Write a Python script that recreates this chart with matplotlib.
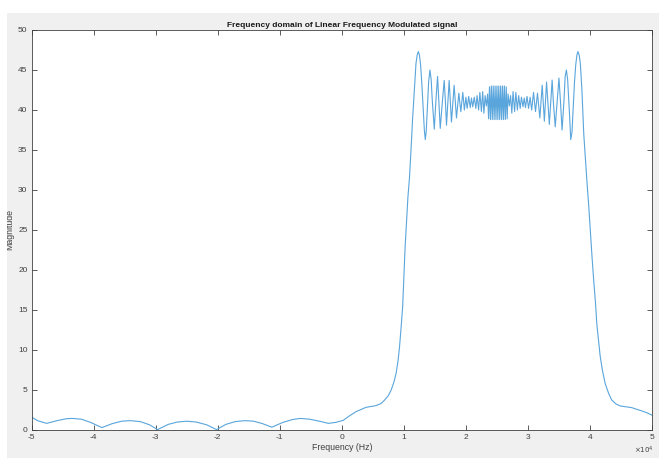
import matplotlib
matplotlib.use('Agg')
import matplotlib.pyplot as plt
from matplotlib.patches import Rectangle

# frequency in units of 1e4 Hz, magnitude
freq = [-5.00, -4.90, -4.76, -4.60, -4.45, -4.35, -4.20, -4.05, -3.87, -3.70,
        -3.55, -3.41, -3.25, -3.10, -2.97, -2.80, -2.65, -2.50, -2.35, -2.18,
        -2.02, -1.87, -1.72, -1.56, -1.42, -1.28, -1.13, -0.95, -0.80, -0.67,
        -0.52, -0.36, -0.22, -0.10,
        0.02, 0.12, 0.23, 0.39, 0.55, 0.63, 0.69, 0.75, 0.795, 0.84,
        0.875, 0.905, 0.93, 0.955, 0.98, 1.00, 1.02, 1.045, 1.066, 1.09,
        1.115, 1.14, 1.17, 1.195, 1.215, 1.233, 1.25, 1.27, 1.29, 1.31,
        1.33, 1.345, 1.36, 1.38, 1.40, 1.42, 1.44,
        1.457, 1.49, 1.515, 1.543, 1.565, 1.586, 1.62, 1.65, 1.67, 1.687,
        1.71, 1.73, 1.75, 1.767, 1.81, 1.848, 1.886, 1.918, 1.95, 1.975,
        2.00, 2.02, 2.045, 2.07, 2.09, 2.11, 2.135, 2.16, 2.18, 2.205,
        2.225, 2.25, 2.27, 2.29, 2.31, 2.33, 2.35,
        2.365, 2.38, 2.395, 2.41, 2.425, 2.44, 2.455, 2.47, 2.485, 2.50,
        2.515, 2.53, 2.545, 2.56, 2.575, 2.59, 2.605, 2.62, 2.635, 2.65,
        2.665, 2.68,
        2.70, 2.72, 2.74, 2.76, 2.785, 2.805, 2.83, 2.85, 2.875, 2.895,
        2.92, 2.94, 2.96, 2.985, 3.01, 3.035, 3.06,
        3.09, 3.122, 3.154, 3.192, 3.23, 3.265, 3.30, 3.345, 3.39, 3.41,
        3.44, 3.47, 3.50, 3.525, 3.55, 3.58, 3.60, 3.62, 3.64, 3.67,
        3.69, 3.71, 3.73, 3.75, 3.77, 3.79, 3.806, 3.825, 3.845, 3.87,
        3.90, 3.93, 3.95, 3.98, 4.005, 4.03,
        4.06, 4.09, 4.11, 4.14, 4.165, 4.20, 4.245, 4.30, 4.35, 4.42,
        4.49, 4.58, 4.67, 4.75, 4.83, 4.92, 5.00]
mag = [1.60, 1.15, 0.83, 1.15, 1.40, 1.45, 1.35, 0.95, 0.30, 0.80,
       1.10, 1.17, 1.05, 0.65, 0.05, 0.70, 1.00, 1.10, 1.00, 0.65,
       0.05, 0.70, 1.05, 1.17, 1.10, 0.80, 0.35, 0.95, 1.30, 1.45,
       1.35, 1.10, 0.83, 0.95,
       1.20, 1.75, 2.30, 2.83, 3.05, 3.30, 3.75, 4.30, 5.00, 6.00,
       7.10, 8.60, 10.4, 12.8, 15.4, 19.0, 22.9, 26.2, 29.2, 31.5,
       35.0, 38.8, 42.5, 45.8, 46.9, 47.3, 46.9, 45.6, 43.2, 40.4,
       37.5, 36.3, 37.3, 40.4, 43.6, 45.0, 43.8,
       41.3, 37.6, 41.0, 44.2, 41.0, 37.7, 41.0, 43.7, 41.0, 38.1,
       41.0, 43.7, 41.0, 38.5, 43.1, 39.0, 42.1, 39.8, 42.2, 40.0,
       41.6, 40.2, 41.7, 40.3, 41.5, 40.4, 41.6, 40.2, 41.8, 40.0,
       42.2, 39.8, 42.3, 39.6, 41.8, 40.5, 42.0,
       38.9, 42.9, 38.8, 43.0, 38.8, 43.0, 38.8, 43.0, 38.8, 43.0,
       38.8, 43.0, 38.8, 43.0, 38.8, 43.0, 38.8, 43.0, 38.8, 42.9,
       38.9, 42.0,
       40.5, 41.8, 39.6, 42.3, 39.8, 42.2, 40.0, 41.8, 40.2, 41.6,
       40.4, 41.5, 40.3, 41.7, 40.2, 41.6, 40.0,
       42.2, 39.8, 42.1, 39.0, 43.1, 38.6, 43.5, 38.2, 43.75, 41.0,
       37.9, 41.0, 44.0, 41.0, 37.5, 41.0, 44.2, 45.0, 43.8, 39.5,
       36.3, 37.2, 40.4, 43.4, 45.6, 46.9, 47.3, 46.9, 45.8, 42.5,
       37.0, 33.5, 31.2, 28.0, 25.0, 22.0,
       18.7, 15.8, 13.3, 11.0, 9.2, 7.5, 5.8, 4.6, 3.75, 3.25,
       3.0, 2.9, 2.8, 2.6, 2.4, 2.15, 1.85]

xticks = [-5, -4, -3, -2, -1, 0, 1, 2, 3, 4, 5]
yticks = [0, 5, 10, 15, 20, 25, 30, 35, 40, 45, 50]

plt.rcParams['font.family'] = ['Liberation Sans', 'DejaVu Sans']

fig = plt.figure(figsize=(6.59, 4.58), dpi=100, facecolor='#f0f0f0')
# white margin strips seen at top / left of the screenshot
fig.patches.append(Rectangle((0, 1 - 13/458), 1, 13/458, transform=fig.transFigure,
                             facecolor='white', edgecolor='none', zorder=0))
fig.patches.append(Rectangle((0, 0), 7/659, 1, transform=fig.transFigure,
                             facecolor='white', edgecolor='none', zorder=0))

ax = fig.add_axes([31.7/659, 28/458, (652-31.7)/659, 400/458])
ax.plot(freq, mag, color='#59a5dc', lw=0.8)

ax.set_xlim(-5, 5)
ax.set_ylim(0, 50)
ax.set_xticks(xticks)
ax.set_yticks(yticks)
ax.set_xticklabels([str(t) for t in xticks])
ax.set_yticklabels([str(t) for t in yticks])
ax.tick_params(direction='in', length=3.5, width=0.6, labelsize=6,
               colors='#404040', top=True, right=True, pad=3)
for s in ax.spines.values():
    s.set_color('#404040')
    s.set_linewidth(0.6)

ax.set_title('Frequency domain of Linear Frequency Modulated signal',
             fontsize=6, fontweight='bold', color='#1a1a1a', pad=2.5)
ax.set_xlabel('Frequency (Hz)', fontsize=6.3, color='#404040', labelpad=1)
ax.set_ylabel('Magnitude', fontsize=6.3, color='#404040', labelpad=3)
ax.text(1.003, -0.05, r'$\times10^4$', transform=ax.transAxes, ha='right',
        va='center', fontsize=5, color='#404040')

fig.savefig('out.png', dpi=100, facecolor=fig.get_facecolor())
